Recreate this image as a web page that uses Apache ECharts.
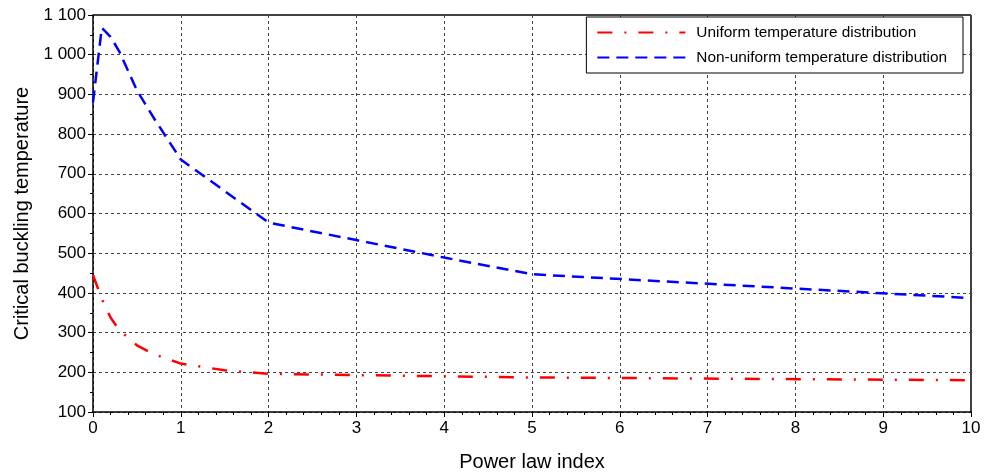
<!DOCTYPE html>
<html>
<head>
<meta charset="utf-8">
<script src="https://cdn.jsdelivr.net/npm/echarts@6/dist/echarts.min.js"></script>
<style>
  html, body { margin: 0; padding: 0; background: #fff; }
  #chart { width: 989px; height: 476px; }
</style>
</head>
<body>
<div id="chart"></div>
<script>
// Power law index sample points and critical buckling temperatures
const indexUniform = [0, 0.1, 0.2, 0.3, 0.5, 0.7, 1, 1.5, 2, 5, 10];
const tempUniform = [445, 385, 338, 306, 268, 245, 222, 205, 196, 187, 180];

const indexNonUniform = [0, 0.1, 0.2, 0.3, 0.5, 0.7, 1, 2, 3, 4, 5, 10];
const tempNonUniform = [880, 1068, 1045, 1008, 910, 838, 736, 577, 533, 489, 447, 387];

const seriesNames = ['Uniform temperature distribution', 'Non-uniform temperature distribution'];

const yTicks = { min: 100, max: 1100, step: 100 };
const xTicks = { min: 0, max: 10, step: 1 };

const zip = (xs, ys) => xs.map((x, i) => [x, ys[i]]);
const fmtThousands = v => {
  const s = String(v);
  return s.length > 3 ? s.slice(0, s.length - 3) + ' ' + s.slice(-3) : s;
};

const font = 'Liberation Sans, Arial, sans-serif';
const chart = echarts.init(document.getElementById('chart'), null, { renderer: 'canvas' });

const gridLine = { show: true, lineStyle: { color: '#444', width: 1, type: [3, 3] } };

chart.setOption({
  animation: false,
  backgroundColor: '#fff',
  grid: { left: 93, right: 18, top: 15, bottom: 64, containLabel: false, outerBoundsMode: 'none', show: false },
  legend: {
    right: 26, top: 17,
    orient: 'vertical',
    itemWidth: 88, itemHeight: 10, itemGap: 10,
    padding: [8, 16, 8, 10],
    borderColor: '#000', borderWidth: 1, backgroundColor: '#fff',
    itemStyle: { opacity: 0, borderWidth: 0 },
    textStyle: { fontFamily: font, fontSize: 15.4, color: '#000', padding: [0, 0, 0, 6] },
    data: seriesNames
  },
  xAxis: {
    type: 'value',
    min: xTicks.min, max: xTicks.max, interval: xTicks.step,
    name: 'Power law index', nameLocation: 'middle', nameGap: 40,
    nameTextStyle: { fontFamily: font, fontSize: 20, color: '#000' },
    axisLine: { show: true, onZero: false, lineStyle: { color: '#000', width: 1.5 } },
    axisTick: { show: true, inside: false, length: 5, lineStyle: { color: '#000' } },
    minorTick: { show: true, splitNumber: 5, length: 3, lineStyle: { color: '#000' } },
    axisLabel: { fontFamily: font, fontSize: 17, color: '#000', margin: 8 },
    splitLine: gridLine
  },
  yAxis: {
    type: 'value',
    min: yTicks.min, max: yTicks.max, interval: yTicks.step,
    name: 'Critical buckling temperature', nameLocation: 'middle', nameGap: 60,
    nameTextStyle: { fontFamily: font, fontSize: 20, color: '#000' },
    axisLine: { show: true, lineStyle: { color: '#000', width: 1.5 } },
    axisTick: { show: true, inside: false, length: 5, lineStyle: { color: '#000' } },
    minorTick: { show: true, splitNumber: 2, length: 3, lineStyle: { color: '#000' } },
    axisLabel: { fontFamily: font, fontSize: 17, color: '#000', margin: 7, formatter: fmtThousands },
    splitLine: gridLine
  },
  series: [
    {
      name: seriesNames[0], type: 'line', symbol: 'none', smooth: false,
      data: zip(indexUniform, tempUniform),
      itemStyle: { color: '#ff0000' },
      lineStyle: { color: '#ff0000', width: 2.5, type: [15, 12, 2, 12] }
    },
    {
      name: seriesNames[1], type: 'line', symbol: 'none', smooth: false,
      data: zip(indexNonUniform, tempNonUniform),
      itemStyle: { color: '#0000ff' },
      lineStyle: { color: '#0000ff', width: 2.5, type: [12, 7] }
    }
  ],
  graphic: [
    // closing frame on the top and right edges of the plot
    { type: 'line', shape: { x1: 93, y1: 15, x2: 971, y2: 15 }, style: { stroke: '#000', lineWidth: 1.5 } },
    { type: 'line', shape: { x1: 971, y1: 15, x2: 971, y2: 412 }, style: { stroke: '#000', lineWidth: 1.5 } }
  ]
});
</script>
</body>
</html>
